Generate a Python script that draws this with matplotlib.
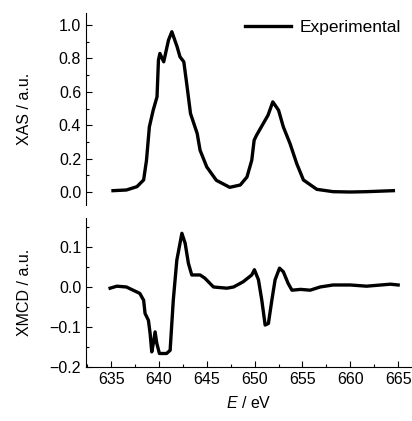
import numpy as np
import matplotlib.pyplot as plt
from matplotlib.ticker import MultipleLocator

plt.rcParams['font.family'] = ['Liberation Sans', 'DejaVu Sans']
plt.rcParams['mathtext.fontset'] = 'custom'
plt.rcParams['mathtext.it'] = 'Liberation Sans:italic'
plt.rcParams['mathtext.rm'] = 'Liberation Sans'

# XAS (espectro experimental)
xas_e = [635.2, 636.6, 637.7, 638.4, 638.7, 639.0, 639.4, 639.8, 639.95, 640.1,
         640.5, 641.0, 641.35, 641.9, 642.2, 642.6, 642.9, 643.3, 644.0, 644.3,
         645.0, 646.0, 647.4, 648.5, 649.2, 649.7, 649.95, 650.2, 650.9, 651.4,
         651.9, 652.5, 653.0, 653.7, 654.4, 655.1, 656.5, 658.2, 660.0, 661.7, 664.5]
xas_i = [0.008, 0.012, 0.032, 0.072, 0.19, 0.39, 0.49, 0.57, 0.79, 0.83,
         0.78, 0.91, 0.96, 0.87, 0.81, 0.78, 0.65, 0.47, 0.35, 0.25,
         0.15, 0.07, 0.028, 0.042, 0.09, 0.19, 0.31, 0.34, 0.41, 0.46,
         0.54, 0.49, 0.39, 0.29, 0.17, 0.072, 0.016, 0.002, 0.0, 0.002, 0.008]

# XMCD
xmcd_e = [634.9, 635.6, 636.6, 637.3, 638.0, 638.4, 638.55, 638.9, 639.08, 639.25,
          639.42, 639.6, 639.77, 640.05, 640.8, 641.17, 641.5, 641.87, 642.4, 642.74,
          643.08, 643.43, 644.3, 644.8, 645.7, 647.1, 647.8, 648.8, 649.7, 649.98,
          650.4, 650.75, 651.1, 651.44, 651.8, 652.14, 652.6, 653.0, 653.5, 653.9,
          654.8, 655.8, 656.85, 658.2, 660.0, 661.7, 664.2, 665.0]
xmcd_i = [-0.003, 0.002, 0.0, -0.008, -0.016, -0.033, -0.066, -0.083, -0.116, -0.162,
          -0.14, -0.112, -0.14, -0.166, -0.166, -0.158, -0.033, 0.067, 0.134, 0.109,
          0.059, 0.03, 0.03, 0.022, 0.0, -0.003, 0.0, 0.013, 0.03, 0.043,
          0.018, -0.033, -0.095, -0.091, -0.033, 0.018, 0.047, 0.038, 0.009, -0.008,
          -0.006, -0.008, 0.0, 0.005, 0.005, 0.002, 0.007, 0.005]

fig = plt.figure(figsize=(4.12, 4.21), dpi=100)
ax1 = fig.add_axes([0.209, 0.513, 0.789, 0.456])
ax2 = fig.add_axes([0.209, 0.128, 0.789, 0.354])

ax1.plot(xas_e, xas_i, color='black', linewidth=2.4, label='Experimental')
ax2.plot(xmcd_e, xmcd_i, color='black', linewidth=2.4)

for ax in (ax1, ax2):
    ax.set_xlim(632.39, 666.36)
    ax.spines['top'].set_visible(False)
    ax.spines['right'].set_visible(False)
    ax.tick_params(direction='in', length=4, width=0.8, labelsize=11.5, which='major')
    ax.tick_params(direction='in', length=2, width=0.8, which='minor')

ax1.set_ylim(-0.078, 1.072)
ax1.spines['bottom'].set_visible(False)
ax1.tick_params(axis='x', which='both', bottom=False, labelbottom=False)
ax1.yaxis.set_major_locator(MultipleLocator(0.2))
ax1.yaxis.set_minor_locator(MultipleLocator(0.1))
ax1.set_ylabel('XAS / a.u.', fontsize=11.5)
ax1.yaxis.set_label_coords(-0.166, 0.5)

ax2.set_ylim(-0.2, 0.172)
ax2.xaxis.set_major_locator(MultipleLocator(5))
ax2.xaxis.set_minor_locator(MultipleLocator(2.5))
ax2.yaxis.set_major_locator(MultipleLocator(0.1))
ax2.yaxis.set_minor_locator(MultipleLocator(0.05))
ax2.set_ylabel('XMCD / a.u.', fontsize=11.5)
ax2.yaxis.set_label_coords(-0.166, 0.5)
ax2.set_xlabel('$E$ / eV', fontsize=11.5)
ax2.xaxis.set_label_coords(0.5, -0.185)

ax1.legend(loc='upper right', frameon=False, fontsize=12.5, handlelength=2.65,
           handletextpad=0.5, borderaxespad=0.0, bbox_to_anchor=(0.99, 1.0))

fig.savefig('out.png', dpi=100)
